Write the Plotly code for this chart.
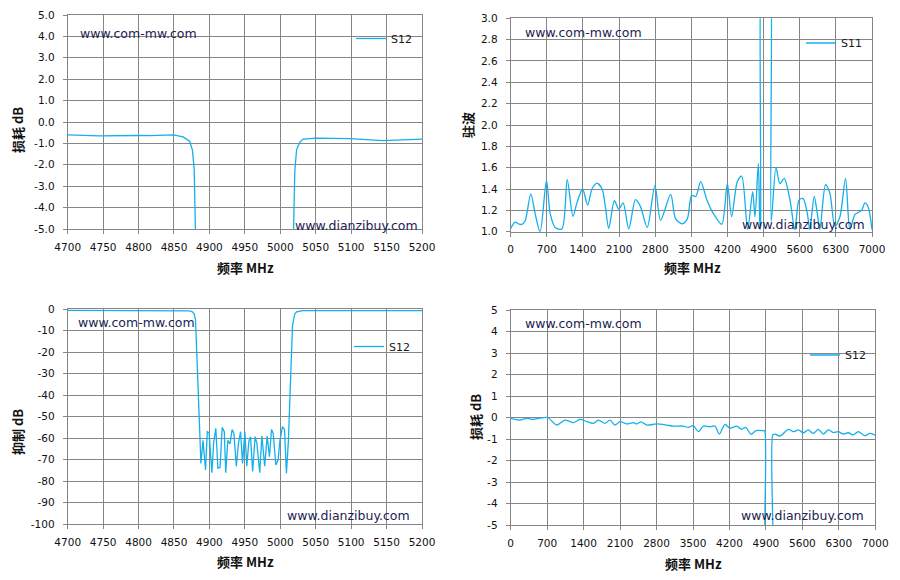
import plotly.graph_objects as go

# ---- data ----
# S12 narrow band 4700-5200 MHz (used by the two left charts)
freq_narrow = [4700, 4745, 4800, 4816, 4849, 4863, 4872, 4876, 4878.5, 4880.4, 4882, 4884.5,
               4886.5, 4888, 4891, 4894.5, 4897, 4899.5, 4903.5, 4906, 4909, 4912, 4915, 4918,
               4921, 4923, 4926, 4929, 4932, 4934.5, 4938, 4941, 4944, 4946.7, 4950, 4952.8,
               4955.6, 4958, 4961, 4964.5, 4967, 4971, 4974, 4978, 4981.5, 4984.7, 4987.6, 4990,
               4993.7, 4997, 4999.3, 5003, 5006, 5008.7, 5011.5, 5014.4, 5017.2, 5019, 5020.5,
               5023, 5027.5, 5032, 5051, 5098, 5145, 5200]
s12_narrow = [-0.60, -0.65, -0.63, -0.64, -0.60, -0.70, -0.90, -1.3, -2.2, -5.0, -19, -39,
              -56, -71.7, -61, -74.8, -57, -57.5, -76, -62, -55.4, -74, -73.5, -55,
              -57, -76, -61, -62.7, -56, -57.7, -73, -62.4, -57, -71.7, -57, -73,
              -61.6, -59.3, -75.5, -59.3, -62.4, -76, -59, -73, -59, -68.6, -56, -57.7,
              -72.4, -70, -61.6, -54.6, -56, -76.3, -60.8, -29.9, -8.0, -4.6, -2.3,
              -1.3, -0.95, -0.80, -0.75, -0.78, -0.87, -0.80]

# S11 VSWR 0-7000 MHz
freq_s11 = [0, 84, 149, 214, 279, 389, 473, 570, 693, 765, 862, 992, 1095, 1206, 1283, 1393,
            1491, 1575, 1672, 1770, 1834, 1899, 2009, 2094, 2178, 2288, 2418, 2515, 2645, 2794,
            2904, 3099, 3196, 3325, 3422, 3506, 3584, 3681, 3800, 3926, 4088, 4197, 4281, 4391,
            4475, 4591, 4688, 4733, 4798, 4830, 4840, 4844, 4848, 5040, 5044, 5048, 5140, 5216,
            5300, 5410, 5506, 5590, 5666, 5747, 5795, 5880, 5941, 5990, 6100, 6184, 6281, 6378,
            6488, 6572, 6669, 6798, 6863, 6927, 7000]
vswr_s11 = [1.03, 1.09, 1.074, 1.068, 1.10, 1.355, 1.17, 1.0, 1.48, 1.17, 1.04, 1.026, 1.487, 1.145, 1.27, 1.40,
            1.25, 1.40, 1.455, 1.40, 1.235, 1.03, 1.29, 1.21, 1.27, 1.026, 1.30, 1.235, 1.04, 1.435,
            1.106, 1.35, 1.12, 1.074, 1.12, 1.34, 1.33, 1.47, 1.30, 1.17, 1.07, 1.45, 1.14, 1.47,
            1.52, 1.02, 1.375, 1.14, 1.64, 1.02, 1.05, 3.3, 3.3, 3.3, 3.3, 1.10, 1.60, 1.45,
            1.50, 1.30, 1.02, 1.30, 1.31, 1.17, 1.02, 1.33, 1.17, 1.02, 1.44, 1.36, 1.05, 1.14,
            1.50, 1.02, 1.16, 1.20, 1.27, 1.23, 1.02]

# S12 wide band 0-7000 MHz
freq_wide = [0, 179, 307, 435, 560, 710, 883, 1043, 1203, 1331, 1459, 1587, 1683, 1811, 1907,
             2003, 2099, 2227, 2355, 2420, 2500, 2611, 2803, 2995, 3122, 3314, 3410, 3507, 3602,
             3698, 3826, 3922, 4005, 4114, 4210, 4338, 4434, 4511, 4613, 4709, 4850, 4876, 4882,
             4886, 5026, 5030, 5034, 5075, 5171, 5331, 5427, 5523, 5619, 5714, 5810, 5906, 6002,
             6098, 6194, 6290, 6386, 6482, 6578, 6674, 6802, 6898, 7000]
s12_wide = [-0.04, -0.12, -0.04, -0.09, -0.03, 0.0, -0.35, -0.12, -0.24, -0.09, -0.19, -0.27, -0.12, -0.27, -0.12,
            -0.35, -0.19, -0.30, -0.24, -0.30, -0.20, -0.35, -0.30, -0.35, -0.40, -0.40, -0.46, -0.38, -0.66,
            -0.40, -0.43, -0.40, -0.77, -0.32, -0.50, -0.40, -0.55, -0.46, -0.78, -0.61, -0.61, -0.62, -5.5,
            -5.5, -5.5, -5.5, -0.80, -0.77, -0.86, -0.55, -0.66, -0.58, -0.71, -0.58, -0.74, -0.55, -0.77,
            -0.58, -0.70, -0.66, -0.77, -0.71, -0.81, -0.66, -0.85, -0.74, -0.82]

# ticks
ticks_narrow = list(range(4700, 5201, 50))
ticks_wide = list(range(0, 7001, 700))
ticks_loss1 = [5.0, 4.0, 3.0, 2.0, 1.0, 0.0, -1.0, -2.0, -3.0, -4.0, -5.0]
ticks_vswr = [1.0, 1.2, 1.4, 1.6, 1.8, 2.0, 2.2, 2.4, 2.6, 2.8, 3.0]
ticks_rej = [0, -10, -20, -30, -40, -50, -60, -70, -80, -90, -100]
ticks_loss2 = [5, 4, 3, 2, 1, 0, -1, -2, -3, -4, -5]

LINE = "#12B0EC"
GRID = "#868686"
TICKFONT = dict(family="DejaVu Sans", size=10.5, color="#111111")

# the page body has an 8px margin, so the figure is a bit smaller than the window
OFF = 8
W, H = 900 - OFF, 580 - OFF

fig = go.Figure()

def px_x(v):
    return (v - OFF) / W

def px_y(v):
    return 1 - (v - OFF) / H

# plot area boxes in window pixels (left, right, top, bottom)
boxes = [(67.7, 422, 15, 229), (510.7, 872, 18.3, 231.7),
         (67.7, 422, 309, 524.3), (510.7, 875.3, 310, 525)]

def axis_pair(i, xr, xt, xlab, yr, yt, ylab):
    l, r, t, b = boxes[i]
    sx = "" if i == 0 else str(i + 1)
    common = dict(showgrid=True, gridcolor=GRID, gridwidth=1, showline=True, linecolor=GRID,
                  linewidth=1, mirror=True, zeroline=False, tickfont=TICKFONT,
                  ticks="outside", ticklen=4, tickwidth=1, tickcolor=GRID,
                  fixedrange=True, automargin=False)
    fig.layout["xaxis" + sx] = dict(domain=[px_x(l), px_x(r)], range=xr, tickmode="array",
                                    tickvals=xt, ticktext=xlab, anchor="y" + sx,
                                    ticklabelstandoff=4, **common)
    fig.layout["yaxis" + sx] = dict(domain=[px_y(b), px_y(t)], range=yr, tickmode="array",
                                    tickvals=yt, ticktext=ylab, anchor="x" + sx,
                                    ticklabelstandoff=6, **common)

def lab(vals, fmt):
    return [fmt.format(v) for v in vals]

axis_pair(0, [4700, 5200], ticks_narrow, lab(ticks_narrow, "{}"),
          [-5, 5], ticks_loss1, lab(ticks_loss1, "{:.1f}"))
axis_pair(1, [0, 7000], ticks_wide, lab(ticks_wide, "{}"),
          [1, 3], ticks_vswr, lab(ticks_vswr, "{:.1f}"))
axis_pair(2, [4700, 5200], ticks_narrow, lab(ticks_narrow, "{}"),
          [-100, 0], ticks_rej, lab(ticks_rej, "{}"))
axis_pair(3, [0, 7000], ticks_wide, lab(ticks_wide, "{}"),
          [-5, 5], ticks_loss2, lab(ticks_loss2, "{}"))

fig.add_trace(go.Scatter(x=freq_narrow, y=s12_narrow, name="S12", mode="lines",
                         line=dict(color=LINE, width=1.3), xaxis="x", yaxis="y", legend="legend"))
fig.add_trace(go.Scatter(x=freq_s11, y=vswr_s11, name="S11", mode="lines",
                         line=dict(color=LINE, width=1.3, shape="spline", smoothing=0.8),
                         xaxis="x2", yaxis="y2", legend="legend2"))
fig.add_trace(go.Scatter(x=freq_narrow, y=s12_narrow, name="S12", mode="lines",
                         line=dict(color=LINE, width=1.3), xaxis="x3", yaxis="y3", legend="legend3"))
fig.add_trace(go.Scatter(x=freq_wide, y=s12_wide, name="S12", mode="lines",
                         line=dict(color=LINE, width=1.3, shape="spline", smoothing=0.8),
                         xaxis="x4", yaxis="y4", legend="legend4"))

# legends: white boxes over the grid + legend entries
leg_boxes = [(352, 413, 20, 57), (802, 862, 24, 62), (350, 411, 327, 366), (806, 867, 334, 376)]
leg_names = ["legend", "legend2", "legend3", "legend4"]
for (l, r, t, b), nm in zip(leg_boxes, leg_names):
    fig.add_shape(type="rect", xref="paper", yref="paper", x0=px_x(l), x1=px_x(r),
                  y0=px_y(b), y1=px_y(t), fillcolor="white", line_width=0, layer="between")
    fig.layout[nm] = dict(x=px_x(l - 1), y=px_y((t + b) / 2), xanchor="left", yanchor="middle",
                          bgcolor="rgba(0,0,0,0)", borderwidth=0,
                          font=dict(family="DejaVu Sans", size=11, color="#1a1a1a"))

# watermarks
WM = dict(family="DejaVu Sans", size=12.5, color="#1c2350")
marks = [("www.com-mw.com", 78, 33), ("www.dianzibuy.com", 293, 225),
         ("www.com-mw.com", 523, 32), ("www.dianzibuy.com", 740, 224),
         ("www.com-mw.com", 76, 322), ("www.dianzibuy.com", 285, 515),
         ("www.com-mw.com", 523, 323), ("www.dianzibuy.com", 739, 515)]
for txt, x, y in marks:
    fig.add_annotation(text=txt, x=px_x(x), y=px_y(y), xref="paper", yref="paper",
                       xanchor="left", yanchor="middle", showarrow=False, font=WM)

# axis titles
TF = dict(family="Noto Sans CJK SC", size=13, color="#111111")
xtitles = [(245, 267), (692, 267), (245, 561), (693, 563)]
for x, y in xtitles:
    fig.add_annotation(text="<b>频率 MHz</b>", x=px_x(x), y=px_y(y), xref="paper", yref="paper",
                       xanchor="center", yanchor="middle", showarrow=False, font=TF)
ytitles = [("<b>损耗 dB</b>", 17, 130), ("<b>驻波</b>", 467, 125),
           ("<b>抑制 dB</b>", 17, 432), ("<b>损耗 dB</b>", 475, 417)]
for txt, x, y in ytitles:
    fig.add_annotation(text=txt, x=px_x(x), y=px_y(y), xref="paper", yref="paper",
                       xanchor="center", yanchor="middle", showarrow=False, textangle=-90,
                       font=TF)

fig.update_layout(width=W, height=H, margin=dict(l=0, r=0, t=0, b=0),
                  paper_bgcolor="white", plot_bgcolor="white", showlegend=True)

fig.write_html("out.html")
